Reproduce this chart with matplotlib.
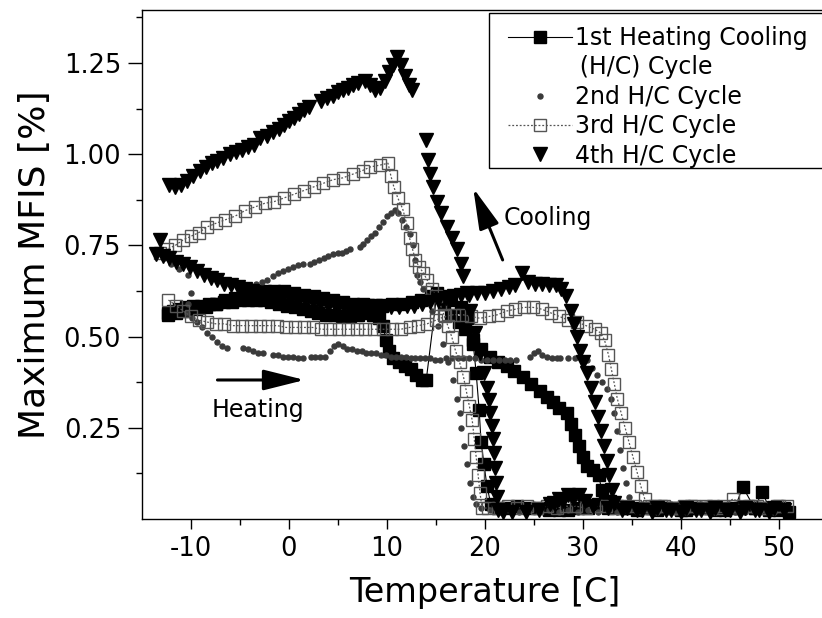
import matplotlib
matplotlib.use("Agg")
import matplotlib.pyplot as plt
from matplotlib.lines import Line2D
from matplotlib.patches import Rectangle

plt.rcParams['font.family'] = ['DejaVu Sans']
plt.rcParams['axes.unicode_minus'] = False

# ---- axis ticks ---------------------------------------------------------
x_ticks = [-10, 0, 10, 20, 30, 40, 50]
x_minor = [-5, 5, 15, 25, 35, 45]
y_ticks = [0.25, 0.50, 0.75, 1.00, 1.25]
y_tick_labels = ['0.25', '0.50', '0.75', '1.00', '1.25']
y_minor = [0.125, 0.375, 0.625, 0.875, 1.125, 1.375]

legend_labels = ['1st Heating Cooling', '\u2009(H/C) Cycle', '2nd H/C Cycle',
                 '3rd H/C Cycle', '4th H/C Cycle']

# ---- measured data: (temperature [C], maximum MFIS [%]) -----------------
cycle1_heat = [(-12.3, 0.565), (-11.8, 0.57), (-11.2, 0.575), (-10.5, 0.58), (-9.8, 0.585),
               (-9.0, 0.585), (-8.2, 0.59), (-7.4, 0.59), (-6.6, 0.595), (-5.8, 0.595),
               (-5.0, 0.60), (-4.2, 0.60), (-3.4, 0.60), (-2.6, 0.60), (-1.8, 0.595),
               (-1.0, 0.59), (-0.2, 0.585), (0.6, 0.58), (1.4, 0.575), (2.2, 0.57),
               (3.0, 0.565), (3.8, 0.56), (4.6, 0.56), (5.4, 0.555), (6.2, 0.555),
               (7.0, 0.56), (7.8, 0.565), (8.6, 0.56), (9.2, 0.55), (9.6, 0.53),
               (9.9, 0.49), (10.2, 0.46), (10.6, 0.44), (11.2, 0.43), (11.8, 0.42),
               (12.4, 0.41), (13.0, 0.395), (13.6, 0.38), (14.0, 0.38), (15.1, 0.62),
               (15.8, 0.59), (16.5, 0.56), (17.3, 0.54), (18.0, 0.52), (18.8, 0.49),
               (19.6, 0.465), (20.5, 0.445), (21.3, 0.43), (22.2, 0.42), (23.0, 0.405),
               (23.9, 0.39), (24.7, 0.37), (25.6, 0.35), (26.3, 0.335), (26.9, 0.32),
               (27.6, 0.305), (28.4, 0.29), (28.8, 0.26), (29.2, 0.23), (29.6, 0.20),
               (30.0, 0.17), (30.4, 0.145), (31.0, 0.135), (31.6, 0.12), (31.9, 0.08),
               (32.2, 0.05), (32.5, 0.03), (34.0, 0.03), (35.5, 0.025), (37.0, 0.03),
               (38.5, 0.03), (40.0, 0.025), (41.5, 0.03), (43.0, 0.03), (44.5, 0.025),
               (46.0, 0.03), (47.5, 0.03), (49.0, 0.025), (50.5, 0.03)]

cycle1_cool = [(51.0, 0.02), (50.0, 0.025), (49.0, 0.03), (48.3, 0.074), (47.5, 0.03),
               (46.3, 0.088), (45.5, 0.03), (44.5, 0.03), (43.5, 0.025), (42.5, 0.03),
               (41.5, 0.03), (40.5, 0.025), (39.5, 0.03), (38.5, 0.03), (37.5, 0.025),
               (36.5, 0.03), (35.5, 0.03), (34.5, 0.03), (33.5, 0.035), (32.8, 0.05),
               (32.2, 0.045), (31.5, 0.04), (30.5, 0.03), (29.5, 0.03), (28.5, 0.025),
               (27.5, 0.025), (26.5, 0.025), (25.5, 0.03), (24.5, 0.03), (23.3, 0.035),
               (22.3, 0.03), (21.3, 0.03), (20.6, 0.04), (20.2, 0.09), (19.9, 0.15),
               (19.6, 0.21), (19.4, 0.30), (19.1, 0.40), (18.8, 0.48), (18.2, 0.55),
               (17.5, 0.58), (16.5, 0.60), (15.5, 0.61), (14.5, 0.61), (13.5, 0.60),
               (12.5, 0.595), (11.5, 0.59), (10.5, 0.59), (9.5, 0.585), (8.5, 0.585),
               (7.5, 0.59), (6.5, 0.59), (5.5, 0.595), (4.5, 0.60), (3.5, 0.605),
               (2.5, 0.61), (1.5, 0.615), (0.5, 0.62), (-0.5, 0.625), (-1.5, 0.625),
               (-2.5, 0.625), (-3.5, 0.62), (-4.5, 0.615), (-5.5, 0.605), (-6.5, 0.60),
               (-7.5, 0.59), (-8.5, 0.58), (-9.5, 0.575), (-10.5, 0.57), (-11.5, 0.565),
               (-12.3, 0.56)]

cycle2_heat = [(-12.8, 0.715), (-12.0, 0.70), (-11.2, 0.685), (-10.3, 0.67), (-10.0, 0.62),
               (-10.3, 0.59), (-10.4, 0.565), (-9.9, 0.55), (-9.4, 0.54), (-8.9, 0.525),
               (-8.4, 0.51), (-7.9, 0.50), (-7.3, 0.485), (-6.8, 0.475), (-6.3, 0.47),
               (-4.7, 0.47), (-4.2, 0.465), (-3.7, 0.46), (-3.2, 0.455), (-2.7, 0.455),
               (-1.6, 0.45), (-1.1, 0.45), (-0.6, 0.445), (-0.1, 0.445), (0.4, 0.445),
               (0.9, 0.44), (1.4, 0.44), (2.2, 0.445), (2.7, 0.445), (3.2, 0.445),
               (3.7, 0.445), (4.2, 0.46), (4.6, 0.475), (5.0, 0.48), (5.5, 0.475),
               (5.9, 0.465), (6.4, 0.465), (6.9, 0.46), (7.4, 0.46), (7.9, 0.455),
               (8.4, 0.455), (8.9, 0.455), (9.4, 0.45), (9.9, 0.45), (10.4, 0.445),
               (10.9, 0.445), (11.4, 0.445), (11.9, 0.445), (12.4, 0.44), (12.9, 0.44),
               (13.4, 0.44), (13.9, 0.44), (14.4, 0.44), (14.9, 0.435), (15.4, 0.435),
               (16.0, 0.44), (16.6, 0.44), (17.2, 0.44), (17.8, 0.44), (18.4, 0.44),
               (19.0, 0.44), (19.6, 0.435), (20.2, 0.435), (20.8, 0.435), (21.4, 0.435),
               (22.0, 0.435), (22.6, 0.435), (23.2, 0.435), (24.6, 0.445), (25.0, 0.455),
               (25.4, 0.46), (25.8, 0.45), (26.3, 0.445), (26.8, 0.44), (27.3, 0.44),
               (27.7, 0.44), (28.5, 0.44), (29.2, 0.44), (29.8, 0.44), (30.4, 0.435),
               (30.9, 0.415), (31.4, 0.395), (31.9, 0.375), (32.4, 0.355), (32.9, 0.33),
               (33.2, 0.29), (33.5, 0.24), (33.8, 0.19), (34.1, 0.14), (34.4, 0.10),
               (34.7, 0.06), (35.0, 0.03), (36.0, 0.025), (37.5, 0.02), (39.0, 0.025),
               (40.5, 0.02), (42.0, 0.025), (43.5, 0.02), (45.0, 0.025), (46.5, 0.02),
               (48.0, 0.025), (49.5, 0.02)]

cycle2_cool = [(50.5, 0.025), (49.5, 0.02), (48.5, 0.025), (47.5, 0.02), (46.5, 0.025),
               (45.5, 0.02), (44.5, 0.025), (43.5, 0.02), (42.5, 0.025), (41.5, 0.02),
               (40.5, 0.025), (39.5, 0.02), (38.5, 0.025), (37.5, 0.02), (36.5, 0.025),
               (35.5, 0.02), (34.5, 0.025), (33.5, 0.02), (32.5, 0.025), (31.5, 0.02),
               (30.5, 0.025), (29.5, 0.02), (28.5, 0.025), (27.5, 0.02), (26.5, 0.025),
               (25.5, 0.02), (24.5, 0.025), (23.5, 0.02), (22.5, 0.025), (21.5, 0.02),
               (20.5, 0.025), (19.6, 0.03), (19.1, 0.04), (18.8, 0.06), (18.5, 0.10),
               (18.2, 0.15), (17.9, 0.20), (17.6, 0.25), (17.4, 0.29), (17.1, 0.33),
               (16.7, 0.38), (16.2, 0.43), (15.7, 0.48), (15.2, 0.53), (14.6, 0.57),
               (14.1, 0.61), (13.7, 0.63), (13.4, 0.65), (13.1, 0.67), (12.9, 0.71),
               (12.7, 0.75), (12.3, 0.78), (11.9, 0.80), (11.5, 0.82), (11.1, 0.84),
               (10.8, 0.847), (10.4, 0.84), (10.0, 0.83), (9.6, 0.815), (9.2, 0.80),
               (8.8, 0.785), (8.4, 0.775), (8.0, 0.765), (7.6, 0.755), (7.2, 0.745),
               (6.2, 0.74), (5.8, 0.735), (5.4, 0.73), (5.0, 0.73), (4.5, 0.725),
               (4.0, 0.72), (3.6, 0.715), (3.1, 0.71), (2.6, 0.705), (2.1, 0.70),
               (1.4, 0.70), (0.9, 0.695), (0.4, 0.69), (-0.1, 0.685), (-0.6, 0.68),
               (-1.1, 0.675), (-1.6, 0.665), (-2.2, 0.655), (-2.8, 0.65), (-3.4, 0.645),
               (-4.0, 0.64), (-4.6, 0.64)]

cycle3_heat = [(-12.3, 0.60), (-11.5, 0.585), (-10.8, 0.57), (-10.0, 0.555), (-9.2, 0.545),
               (-8.4, 0.54), (-7.5, 0.535), (-6.6, 0.535), (-5.7, 0.53), (-4.8, 0.53),
               (-3.9, 0.53), (-3.0, 0.53), (-2.1, 0.53), (-1.2, 0.53), (-0.3, 0.525),
               (0.6, 0.525), (1.5, 0.525), (2.4, 0.525), (3.3, 0.52), (4.2, 0.52),
               (5.1, 0.52), (6.0, 0.52), (6.9, 0.52), (7.8, 0.52), (8.7, 0.52),
               (9.6, 0.52), (10.5, 0.52), (11.4, 0.52), (12.3, 0.525), (13.2, 0.53),
               (14.1, 0.535), (15.0, 0.545), (15.9, 0.555), (16.8, 0.56), (17.7, 0.56),
               (18.6, 0.555), (19.5, 0.55), (20.4, 0.555), (21.3, 0.56), (22.2, 0.57),
               (23.1, 0.575), (24.0, 0.58), (24.9, 0.58), (25.8, 0.575), (26.7, 0.565),
               (27.6, 0.555), (28.5, 0.545), (29.4, 0.54), (30.3, 0.53), (31.2, 0.52),
               (31.8, 0.51), (32.2, 0.49), (32.6, 0.45), (32.9, 0.41), (33.2, 0.37),
               (33.5, 0.33), (33.9, 0.29), (34.3, 0.25), (34.7, 0.21), (35.1, 0.17),
               (35.5, 0.13), (35.9, 0.09), (36.3, 0.055), (36.7, 0.035), (38.0, 0.035),
               (39.5, 0.03), (41.0, 0.035), (42.5, 0.035), (44.0, 0.03), (45.5, 0.035),
               (47.0, 0.035), (48.5, 0.03), (50.0, 0.035)]

cycle3_cool = [(50.8, 0.035), (49.8, 0.035), (48.8, 0.03), (47.8, 0.035), (46.8, 0.035),
               (45.3, 0.055), (44.3, 0.035), (43.3, 0.035), (42.3, 0.03), (41.3, 0.035),
               (40.3, 0.035), (39.3, 0.03), (38.3, 0.035), (37.3, 0.035), (36.3, 0.03),
               (35.3, 0.035), (34.3, 0.035), (33.3, 0.03), (32.3, 0.035), (31.3, 0.035),
               (30.3, 0.03), (29.3, 0.035), (28.3, 0.035), (27.3, 0.03), (26.3, 0.035),
               (25.3, 0.03), (24.3, 0.035), (23.3, 0.03), (22.3, 0.035), (21.3, 0.03),
               (20.3, 0.03), (19.7, 0.03), (19.5, 0.07), (19.3, 0.12), (19.1, 0.17),
               (18.9, 0.22), (18.7, 0.27), (18.4, 0.31), (18.1, 0.35), (17.8, 0.39),
               (17.4, 0.43), (17.0, 0.46), (16.6, 0.50), (16.2, 0.53), (15.8, 0.56),
               (15.4, 0.59), (15.0, 0.61), (14.6, 0.63), (14.1, 0.655), (13.7, 0.675),
               (13.3, 0.69), (12.9, 0.71), (12.6, 0.74), (12.3, 0.77), (12.0, 0.81),
               (11.6, 0.85), (11.1, 0.88), (10.7, 0.91), (10.4, 0.94), (10.1, 0.975),
               (9.3, 0.97), (8.3, 0.965), (7.5, 0.955), (6.5, 0.945), (5.5, 0.935),
               (4.5, 0.93), (3.5, 0.92), (2.5, 0.91), (1.5, 0.90), (0.5, 0.89),
               (-0.5, 0.88), (-1.5, 0.87), (-2.5, 0.865), (-3.5, 0.855), (-4.5, 0.845),
               (-5.5, 0.83), (-6.5, 0.82), (-7.5, 0.81), (-8.4, 0.80), (-9.2, 0.785),
               (-10.0, 0.775), (-10.8, 0.765), (-11.6, 0.75), (-12.4, 0.74), (-13.2, 0.73)]

cycle4_heat = [(-13.2, 0.765), (-13.6, 0.725), (-12.9, 0.72), (-12.2, 0.715), (-11.5, 0.705),
               (-10.8, 0.70), (-10.1, 0.69), (-9.4, 0.68), (-8.7, 0.67), (-8.0, 0.66),
               (-7.3, 0.655), (-6.6, 0.645), (-5.9, 0.64), (-5.2, 0.635), (-4.5, 0.63),
               (-3.8, 0.625), (-3.1, 0.62), (-2.4, 0.62), (-1.6, 0.615), (-0.8, 0.61),
               (0.0, 0.605), (0.8, 0.60), (1.6, 0.60), (2.4, 0.595), (3.2, 0.59),
               (4.0, 0.585), (4.8, 0.58), (5.6, 0.58), (6.4, 0.58), (7.2, 0.585),
               (8.0, 0.585), (8.8, 0.585), (9.6, 0.585), (10.4, 0.58), (11.2, 0.58),
               (12.0, 0.585), (12.8, 0.585), (13.6, 0.59), (14.4, 0.595), (15.2, 0.60),
               (16.0, 0.605), (16.8, 0.61), (17.6, 0.615), (18.4, 0.615), (19.2, 0.62),
               (20.0, 0.62), (20.8, 0.625), (21.6, 0.63), (22.4, 0.635), (23.1, 0.64),
               (23.8, 0.675), (24.4, 0.65), (25.1, 0.645), (25.8, 0.645), (26.5, 0.64),
               (27.2, 0.64), (27.8, 0.63), (28.3, 0.61), (28.8, 0.57), (29.1, 0.535),
               (29.4, 0.50), (29.7, 0.46), (30.0, 0.43), (30.4, 0.40), (30.8, 0.36),
               (31.2, 0.32), (31.5, 0.28), (31.8, 0.24), (32.1, 0.20), (32.4, 0.16),
               (32.7, 0.12), (33.0, 0.08), (33.2, 0.045), (34.5, 0.03), (36.0, 0.025),
               (37.5, 0.03), (39.0, 0.025), (40.5, 0.03), (42.0, 0.025), (43.5, 0.03),
               (45.0, 0.025), (46.5, 0.03), (48.0, 0.025), (49.5, 0.03)]

cycle4_cool = [(50.5, 0.025), (49.0, 0.02), (47.5, 0.025), (46.0, 0.02), (44.5, 0.025),
               (43.0, 0.02), (41.5, 0.025), (40.0, 0.02), (38.5, 0.025), (37.0, 0.02),
               (35.5, 0.025), (34.0, 0.025), (32.5, 0.03), (31.0, 0.035), (30.2, 0.05),
               (29.6, 0.065), (29.0, 0.055), (28.5, 0.065), (28.0, 0.05), (27.5, 0.055),
               (27.0, 0.045), (26.6, 0.04), (25.5, 0.025), (24.2, 0.02), (22.8, 0.02),
               (21.8, 0.02), (21.3, 0.025), (21.2, 0.06), (21.1, 0.10), (21.0, 0.14),
               (20.9, 0.18), (20.8, 0.22), (20.7, 0.255), (20.5, 0.29), (20.4, 0.325),
               (20.2, 0.36), (19.9, 0.40), (19.5, 0.455), (19.0, 0.51), (18.5, 0.57),
               (18.2, 0.62), (17.8, 0.665), (17.5, 0.70), (17.1, 0.74), (16.6, 0.77),
               (16.1, 0.80), (15.5, 0.84), (15.1, 0.87), (14.7, 0.91), (14.4, 0.945),
               (14.2, 0.985), (14.0, 1.04), (12.6, 1.175), (12.2, 1.19), (11.8, 1.215),
               (11.4, 1.245), (11.0, 1.265), (10.6, 1.245), (10.2, 1.225), (9.8, 1.20),
               (9.3, 1.18), (8.8, 1.175), (8.3, 1.19), (7.8, 1.20), (7.0, 1.195),
               (6.5, 1.19), (6.0, 1.18), (5.5, 1.175), (5.0, 1.17), (4.5, 1.16),
               (3.9, 1.155), (3.3, 1.145), (2.0, 1.13), (1.5, 1.12), (1.0, 1.11),
               (0.5, 1.10), (0.0, 1.09), (-0.5, 1.08), (-1.0, 1.07), (-1.6, 1.06),
               (-2.2, 1.05), (-3.0, 1.045), (-3.6, 1.025), (-4.2, 1.02), (-4.8, 1.01),
               (-5.4, 1.005), (-6.0, 1.00), (-6.7, 0.99), (-7.3, 0.98), (-7.9, 0.975),
               (-8.5, 0.965), (-9.1, 0.955), (-9.8, 0.94), (-10.4, 0.925), (-11.0, 0.915),
               (-11.6, 0.91), (-12.2, 0.915)]

# ---- marker styles for the four heating/cooling cycles -------------------
style1 = dict(color='black', lw=0.8, marker='s', ms=8.5, mfc='black', mec='black')
style2 = dict(linestyle='none', marker='o', ms=3.6, mfc='#3a3a3a', mec='#3a3a3a')
style3 = dict(color='#555555', lw=0.9, linestyle=(0, (1.5, 1.5)), marker='s', ms=8,
              mfc='none', mec='#555555', mew=1.0)
style4 = dict(linestyle='none', marker='v', ms=9.5, mfc='black', mec='black')


def columns(branch):
    return [p[0] for p in branch], [p[1] for p in branch]


W, H = 822, 618
fig = plt.figure(figsize=(W / 100, H / 100), dpi=100)
ax = fig.add_axes([142 / W, 99 / H, 686 / W, 509 / H])

for branches, style in (((cycle1_heat, cycle1_cool), style1),
                        ((cycle2_heat, cycle2_cool), style2),
                        ((cycle3_heat, cycle3_cool), style3),
                        ((cycle4_heat, cycle4_cool), style4)):
    for branch in branches:
        t, m = columns(branch)
        ax.plot(t, m, **style)

ax.set_xlim(-15, 55)
ax.set_ylim(0, 1.395)
ax.set_xticks(x_ticks)
ax.set_xticks(x_minor, minor=True)
ax.set_yticks(y_ticks)
ax.set_yticklabels(y_tick_labels)
ax.set_yticks(y_minor, minor=True)
ax.tick_params(which='major', direction='out', length=7, width=1.0, labelsize=18.5, pad=5)
ax.tick_params(which='minor', direction='out', length=4, width=1.0)
ax.tick_params(axis='y', which='major', length=10)
for side in ('left', 'bottom', 'top'):
    ax.spines[side].set_linewidth(1.0)
ax.spines['right'].set_visible(False)

ax.set_xlabel('Temperature [C]', fontsize=24, labelpad=10)
ax.set_ylabel('Maximum MFIS [%]', fontsize=26, labelpad=8)

# heating / cooling direction arrows
arrow = dict(arrowstyle='-|>,head_length=1.8,head_width=0.45', lw=2.2,
             color='black', mutation_scale=14, shrinkA=0, shrinkB=0)
ax.annotate('', xy=(1.6, 0.381), xytext=(-7.3, 0.381), arrowprops=arrow)
ax.text(-3.2, 0.28, 'Heating', fontsize=17, ha='center', va='baseline')
ax.annotate('', xy=(18.8, 0.907), xytext=(21.8, 0.71), arrowprops=arrow)
ax.text(26.4, 0.806, 'Cooling', fontsize=17, ha='center', va='baseline')

# legend box runs past the right edge of the figure
ax.add_patch(Rectangle((489 / W, (H - 168) / H), 345 / W, 155 / H,
                       transform=fig.transFigure, facecolor='white',
                       edgecolor='black', lw=1.0, clip_on=False, zorder=4))
handles = [Line2D([], [], **style1), Line2D([], [], linestyle='none'),
           Line2D([], [], **style2), Line2D([], [], **style3), Line2D([], [], **style4)]
leg = ax.legend(handles, legend_labels, loc='upper left',
                bbox_to_anchor=(508 / W, (H - 26) / H), bbox_transform=fig.transFigure,
                fontsize=17, frameon=False, handlelength=2.7, handletextpad=0.15,
                borderpad=0, labelspacing=0.23, borderaxespad=0, numpoints=1)
leg.set_zorder(5)

fig.savefig('out.png', dpi=100)
